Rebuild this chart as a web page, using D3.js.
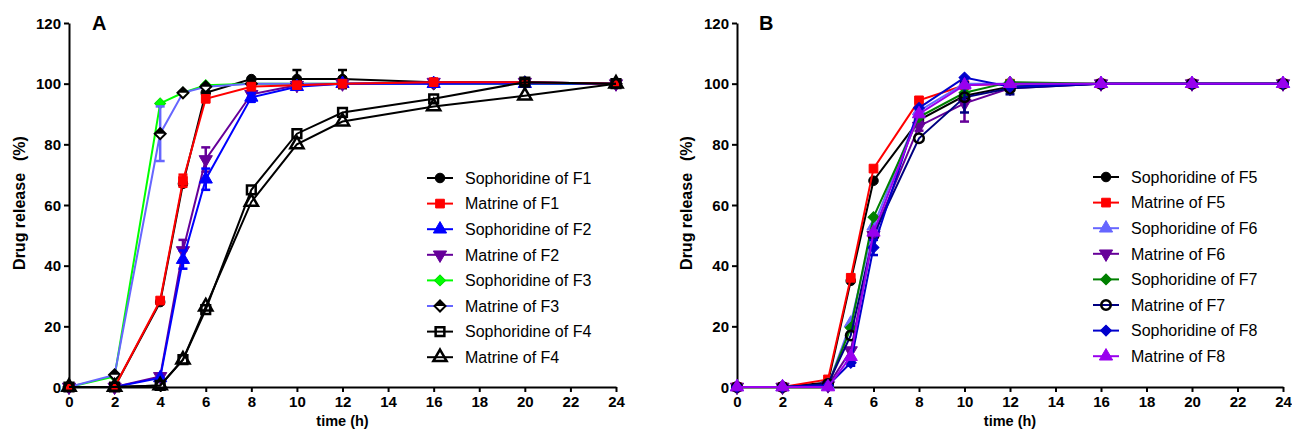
<!DOCTYPE html>
<html><head><meta charset="utf-8">
<script src="https://cdn.jsdelivr.net/npm/d3@7"></script>
<style>
body{margin:0;background:#fff;}
svg text{font-family:"Liberation Sans",Arial,sans-serif;}
</style></head>
<body><svg id="c" width="1292" height="435"></svg>
<script>
// ---------- DATA ----------
const times = [0, 2, 4, 5, 6, 8, 10, 12, 16, 20, 24];
const xTicks = [0, 2, 4, 6, 8, 10, 12, 14, 16, 18, 20, 22, 24];
const yTicks = [0, 20, 40, 60, 80, 100, 120];

// Panel A
const namesA = ["Sophoridine of F1","Matrine of F1","Sophoridine of F2","Matrine of F2",
                "Sophoridine of F3","Matrine of F3","Sophoridine of F4","Matrine of F4"];
const sophF1 = [0, 0, 28, 67, 97, 101.5, 101.5, 101.5, 100.5, 100.5, 100];
const matF1  = [0, 0, 28.5, 68, 95, 99, 99.5, 100, 100.5, 100.5, 100];
const sophF2 = [0, 0, 3, 42, 68.5, 95.5, 99, 100, 100, 100, 100];
const matF2  = [0, 0, 3.5, 45, 75, 96.5, 99.5, 100, 100.5, 100.5, 100];
const sophF3 = [0, 3.5, 93.5, 97, 99.5, 100, 100, 100, 100, 100, 100];
const matF3  = [0, 4, 83.5, 97, 99, 100, 100, 100, 100, 100.5, 100];
const sophF4 = [0, 0, 0.5, 9, 25.5, 65, 83.5, 90.5, 95, 100.5, 100];
const matF4  = [0, 0, 0.5, 9, 26.5, 61, 80, 87.5, 92.5, 96, 100];
const valuesA = [sophF1, matF1, sophF2, matF2, sophF3, matF3, sophF4, matF4];
const errA = [
  [0, 0, 0, 0, 0, 0, 3, 3, 0, 0, 0],
  [0, 0, 0, 2, 0, 0, 0, 0, 0, 0, 0],
  [0, 0, 0, 3, 3.5, 1.5, 1, 0, 0, 0, 0],
  [0, 0, 0, 3.5, 4, 1, 0, 0, 0, 0, 0],
  [0, 0, 0, 0, 0, 0, 0, 0, 0, 0, 0],
  [0, 0, 9, 0, 0, 0, 0, 0, 0, 0, 0],
  [0, 0, 0, 0, 0, 0, 0, 0, 0, 1, 0],
  [0, 0, 0, 0, 0, 0, 0, 0, 0, 0, 0]
];

// Panel B
const namesB = ["Sophoridine of F5","Matrine of F5","Sophoridine of F6","Matrine of F6",
                "Sophoridine of F7","Matrine of F7","Sophoridine of F8","Matrine of F8"];
const sophF5 = [0, 0, 1.5, 35, 68, 88, 96, 99, 100, 100, 100];
const matF5  = [0, 0, 2.5, 36, 72, 94.5, 99.5, 100, 100, 100, 100];
const sophF6 = [0, 0, 0.5, 21, 53, 91, 100, 100, 100, 100, 100];
const matF6  = [0, 0, 0.5, 12, 50, 86, 93.5, 98.5, 100, 100, 100];
const sophF7 = [0, 0, 0.5, 19.5, 56, 89, 97, 100.5, 100, 100, 100];
const matF7  = [0, 0, 1, 17, 50, 82, 95.5, 98.5, 100, 100, 100];
const sophF8 = [0, 0, 0.5, 8, 46, 92, 102, 99, 100, 100, 100];
const matF8  = [0, 0, 0, 10, 51, 90, 99.5, 100, 100, 100, 100];
const valuesB = [sophF5, matF5, sophF6, matF6, sophF7, matF7, sophF8, matF8];
const errB = [
  [0, 0, 0, 0, 0, 0, 0, 0, 0, 0, 0],
  [0, 0, 0, 0, 0, 0, 0, 0, 0, 0, 0],
  [0, 0, 0, 0, 0, 1, 0, 0, 0, 0, 0],
  [0, 0, 0, 0, 0, 1.5, 6, 0, 0, 0, 0],
  [0, 0, 0, 0, 0, 0, 0, 0.5, 0, 0, 0],
  [0, 0, 0, 0, 0, 0, 5, 2, 0, 0, 0],
  [0, 0, 0, 1, 2.5, 0, 0, 0, 0, 0, 0],
  [0, 0, 0, 0, 0, 0, 0, 0, 0, 0, 0]
];

// ---------- STYLES ----------
// fill: colour, "none" (open) or "half" (top half filled)
const styleA = [
  {line:"#000000", fill:"#000000", stroke:"#000000", shape:"circle"},
  {line:"#ff0000", fill:"#ff0000", stroke:"#ff0000", shape:"square"},
  {line:"#0000ff", fill:"#0000ff", stroke:"#0000ff", shape:"triUp"},
  {line:"#660099", fill:"#660099", stroke:"#660099", shape:"triDown"},
  {line:"#00ff00", fill:"#00ff00", stroke:"#00dd00", shape:"diamond"},
  {line:"#6666ff", fill:"half",    stroke:"#000000", shape:"diamond"},
  {line:"#000000", fill:"none",    stroke:"#000000", shape:"square"},
  {line:"#000000", fill:"none",    stroke:"#000000", shape:"triUp"}
];
const styleB = [
  {line:"#000000", fill:"#000000", stroke:"#000000", shape:"circle"},
  {line:"#ff0000", fill:"#ff0000", stroke:"#ff0000", shape:"square"},
  {line:"#6666ff", fill:"#6666ff", stroke:"#6666ff", shape:"triUp"},
  {line:"#660099", fill:"#660099", stroke:"#660099", shape:"triDown"},
  {line:"#008000", fill:"#008000", stroke:"#008000", shape:"diamond"},
  {line:"#000080", fill:"none",    stroke:"#000000", shape:"circle"},
  {line:"#0000cc", fill:"#0000cc", stroke:"#0000cc", shape:"diamond"},
  {line:"#9900ee", fill:"#9900ee", stroke:"#9900ee", shape:"triUp"}
];
// drawing order, bottom to top
const orderA = [0, 4, 5, 3, 2, 1, 6, 7];
const orderB = [0, 1, 2, 3, 4, 5, 6, 7];

const svg = d3.select("#c");

function symbolPath(shape){
  switch(shape){
    case "circle": return {d:d3.symbol(d3.symbolCircle, 72)(), rot:0};
    case "square": return {d:d3.symbol(d3.symbolSquare, 76)(), rot:0};
    case "triUp": return {d:d3.symbol(d3.symbolTriangle, 76)(), rot:0};
    case "triDown": return {d:d3.symbol(d3.symbolTriangle, 76)(), rot:180};
    case "diamond": return {d:d3.symbol(d3.symbolSquare, 60)(), rot:45};
  }
}

function drawMarker(g, cx, cy, st){
  const s = symbolPath(st.shape);
  const tr = `translate(${cx},${cy}) rotate(${s.rot})`;
  if (st.fill === "half") {
    g.append("path").attr("d", s.d).attr("transform", tr).attr("fill", "#fff");
    g.append("path").attr("d", "M-5.5,0L0,-5.5L5.5,0Z")
      .attr("transform", `translate(${cx},${cy})`).attr("fill", "#000");
    g.append("path").attr("d", s.d).attr("transform", tr)
      .attr("fill", "none").attr("stroke", st.stroke).attr("stroke-width", 2);
    return;
  }
  const open = st.fill === "none";
  g.append("path").attr("d", s.d).attr("transform", tr)
    .attr("fill", st.fill).attr("stroke", st.stroke)
    .attr("stroke-width", open ? 2.5 : 1);
}

function panel(cfg){
  const x = d3.scaleLinear().domain([0,24]).range([cfg.x0, cfg.x1]);
  const y = d3.scaleLinear().domain([0,120]).range([387, 23]);
  const g = svg.append("g");

  // axes
  const ax = g.append("g").attr("transform", "translate(0,387)")
    .call(d3.axisBottom(x).tickValues(xTicks).tickSize(5).tickSizeOuter(0).tickPadding(4));
  const ay = g.append("g").attr("transform", `translate(${cfg.x0},0)`)
    .call(d3.axisLeft(y).tickValues(yTicks).tickSize(5).tickSizeOuter(0).tickPadding(3));
  [ax, ay].forEach(a => {
    a.selectAll("path,line").attr("stroke", "#000").attr("stroke-width", 2);
    a.selectAll("text").attr("font-size", 15).attr("font-weight", "bold").attr("fill", "#000");
  });
  ay.selectAll("text").attr("dy", "0.35em");

  // axis titles
  g.append("text").attr("x", (cfg.x0 + cfg.x1) / 2).attr("y", 426)
    .attr("text-anchor", "middle").attr("font-size", 14.5).attr("font-weight", "bold")
    .text("time (h)");
  const yl = g.append("text").attr("transform", `translate(${cfg.ylab},203) rotate(-90)`)
    .attr("text-anchor", "middle").attr("dominant-baseline", "central")
    .attr("font-size", 16).attr("font-weight", "bold");
  yl.append("tspan").text("Drug release");
  yl.append("tspan").attr("dx", 12).text("(%)");
  g.append("text").attr("x", cfg.letterX).attr("y", 30)
    .attr("font-size", 20).attr("font-weight", "bold").text(cfg.letter);

  const line = d3.line().x((d, i) => x(times[i])).y(d => y(d));

  // series
  cfg.order.forEach(si => {
    const vals = cfg.values[si];
    const st = cfg.styles[si];
    const sg = g.append("g");
    vals.forEach((v, i) => {
      const e = cfg.errs[si][i];
      if (e > 0) {
        const cx = x(times[i]);
        sg.append("line").attr("x1", cx).attr("x2", cx).attr("y1", y(v - e)).attr("y2", y(v + e))
          .attr("stroke", st.line).attr("stroke-width", 2.5);
        [v - e, v + e].forEach(b => sg.append("line")
          .attr("x1", cx - 4.5).attr("x2", cx + 4.5).attr("y1", y(b)).attr("y2", y(b))
          .attr("stroke", st.line).attr("stroke-width", 2.5));
      }
    });
    sg.append("path").attr("d", line(vals)).attr("fill", "none")
      .attr("stroke", st.line).attr("stroke-width", 2);
    vals.forEach((v, i) => drawMarker(sg, x(times[i]), y(v), st));
  });

  // legend
  const lg = g.append("g");
  cfg.names.forEach((n, i) => {
    const ly = cfg.legY + i * 25.6;
    const st = cfg.styles[i];
    lg.append("line").attr("x1", cfg.legX).attr("x2", cfg.legX + 26).attr("y1", ly).attr("y2", ly)
      .attr("stroke", st.line).attr("stroke-width", 2);
    drawMarker(lg, cfg.legX + 13, ly, st);
    lg.append("text").attr("x", cfg.legX + 38).attr("y", ly).attr("dy", "0.36em")
      .attr("font-size", 16).attr("fill", "#000").text(n);
  });
}

panel({x0:69, x1:616, ylab:19, letter:"A", letterX:92, values:valuesA, errs:errA,
       styles:styleA, names:namesA, legX:427, legY:178, order:orderA});
panel({x0:737, x1:1283, ylab:686, letter:"B", letterX:759, values:valuesB, errs:errB,
       styles:styleB, names:namesB, legX:1093, legY:177, order:orderB});
</script></body></html>
